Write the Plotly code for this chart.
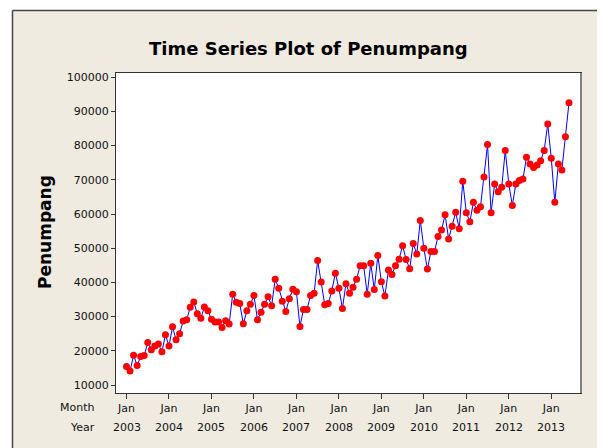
import plotly.graph_objects as go

# ---- data ----
years = ["2003", "2004", "2005", "2006", "2007", "2008", "2009", "2010", "2011", "2012", "2013"]
month_label = "Jan"
penumpang = [
    15400, 14100, 18700, 15700, 18300, 18600, 22400, 20300, 21400, 22000, 19700, 24700,
    21400, 27000, 23200, 25000, 28700, 29100, 32700, 34300, 30800, 29500, 32800, 31700,
    29200, 28400, 28400, 26800, 28800, 27800, 36500, 34200, 33800, 27900, 31700, 33600,
    36200, 29100, 31300, 33600, 35800, 33200, 40900, 38300, 34500, 31500, 35200, 38000,
    37300, 27100, 32100, 32100, 36200, 36800, 46400, 40100, 33500, 33800, 37500, 42700,
    38300, 32400, 39600, 36800, 38600, 40900, 44900, 44900, 36500, 45600, 37900, 47900,
    40200, 36000, 43600, 42300, 44900, 46800, 50700, 46700, 44000, 51400, 48300, 58100,
    50000, 43900, 49000, 49000, 53400, 55300, 59800, 52700, 56400, 60500, 55700, 69600,
    60400, 57700, 63400, 61100, 62100, 70800, 80300, 60400, 68800, 66500, 67800, 78600,
    68800, 62500, 68800, 69800, 70200, 76600, 74600, 73600, 74300, 75600, 78600, 86300,
    76300, 63400, 74600, 72900, 82600, 92500,
]
y_ticks = [10000, 20000, 30000, 40000, 50000, 60000, 70000, 80000, 90000, 100000]

index = list(range(len(penumpang)))
tick_idx = [12 * k for k in range(len(years))]

# page has an 8px body margin, so the figure is drawn 8px smaller and everything shifted
OFF = 8
W, H = 605 - OFF, 448 - OFF
L, R, T, B = 116 - OFF, 581 - OFF, 73 - OFF, 393 - OFF  # plot area in figure pixels


def px(xp):
    return (xp - OFF - L) / (R - L)


def py(yp):
    return (B - (yp - OFF)) / (B - T)


BEIGE = "#EFEBE1"
FONT = "DejaVu Sans"

fig = go.Figure()
fig.add_trace(go.Scatter(
    x=index, y=penumpang, mode="lines+markers",
    line=dict(color="#0000FF", width=1),
    marker=dict(color="#FF0000", size=7, line=dict(width=0)),
    showlegend=False,
))

annotations = [
    dict(text="<b>Time Series Plot of Penumpang</b>", x=px(308), y=py(48),
         xref="paper", yref="paper", showarrow=False, xanchor="center", yanchor="middle",
         font=dict(family="DejaVu Sans", size=18, color="#000")),
    dict(text="<b>Penumpang</b>", x=px(45), y=py(232), textangle=-90,
         xref="paper", yref="paper", showarrow=False, xanchor="center", yanchor="middle",
         font=dict(family="DejaVu Sans", size=17, color="#000")),
    dict(text="Month", x=px(97), y=py(407), xref="paper", yref="paper", showarrow=False,
         xanchor="right", yanchor="middle", font=dict(family=FONT, size=11, color="#111")),
    dict(text="Year", x=px(97), y=py(427), xref="paper", yref="paper", showarrow=False,
         xanchor="right", yanchor="middle", font=dict(family=FONT, size=11, color="#111")),
]
for t, yr in zip(tick_idx, years):
    annotations.append(dict(text=yr, x=t, y=py(427), xref="x", yref="paper", showarrow=False,
                            xanchor="center", yanchor="middle",
                            font=dict(family=FONT, size=11, color="#111")))

shapes = [
    # white strips outside the beige frame
    dict(type="rect", xref="paper", yref="paper", x0=px(-20), x1=px(12), y0=py(470), y1=py(-20),
         fillcolor="white", line=dict(width=0), layer="above"),
    dict(type="rect", xref="paper", yref="paper", x0=px(-20), x1=px(625), y0=py(10), y1=py(-20),
         fillcolor="white", line=dict(width=0), layer="above"),
    # frame border lines
    dict(type="line", xref="paper", yref="paper", x0=px(12.5), x1=px(12.5), y0=py(10.5), y1=py(470),
         line=dict(color="#444", width=1.5), layer="above"),
    dict(type="line", xref="paper", yref="paper", x0=px(12.5), x1=px(625), y0=py(10.5), y1=py(10.5),
         line=dict(color="#444", width=1.5), layer="above"),
    # right plot border (gray, thicker)
    dict(type="line", xref="paper", yref="paper", x0=1, x1=1, y0=0, y1=1,
         line=dict(color="#808080", width=2), layer="above"),
]

fig.update_layout(
    width=W, height=H,
    margin=dict(l=L, r=W - R, t=T, b=H - B, pad=0),
    paper_bgcolor=BEIGE, plot_bgcolor="white",
    annotations=annotations, shapes=shapes,
    xaxis=dict(range=[-2.97, 128.4], tickmode="array", tickvals=tick_idx,
               ticktext=[month_label] * len(tick_idx), ticks="outside", ticklen=5,
               tickcolor="#333", showgrid=False, zeroline=False, showline=True,
               linecolor="#333", linewidth=1, mirror=True,
               tickfont=dict(family=FONT, size=11, color="#111")),
    yaxis=dict(range=[7660, 101230], tickmode="array", tickvals=y_ticks,
               ticktext=[str(v) for v in y_ticks], ticks="outside", ticklen=4,
               tickcolor="#333", showgrid=False, zeroline=False, showline=True,
               linecolor="#333", linewidth=1, mirror=True,
               tickfont=dict(family=FONT, size=11, color="#111")),
)

fig.write_html("out.html")
